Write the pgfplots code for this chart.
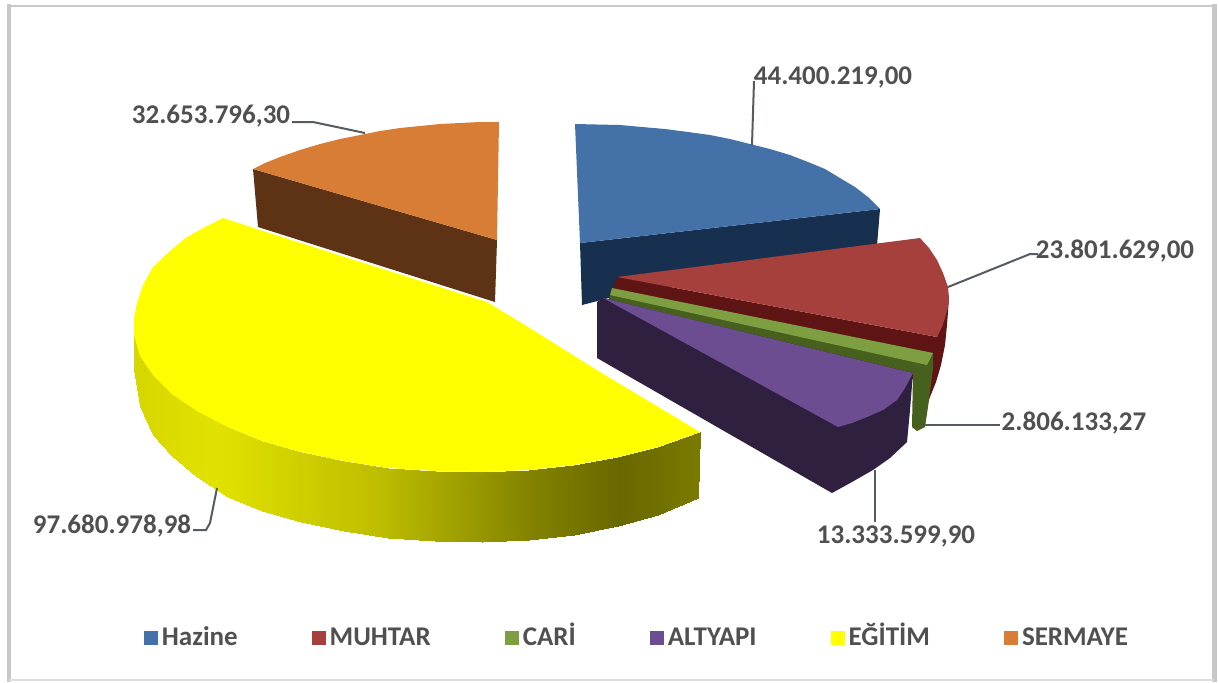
\documentclass[border=0pt]{standalone}
\usepackage{fontspec}
\setmainfont{Carlito}
\usepackage{pgfplots}
\pgfplotsset{compat=1.18}

\definecolor{txt}{HTML}{505050}
\definecolor{lead}{HTML}{555B60}
\definecolor{frame}{HTML}{C8C8C8}
\definecolor{blueT}{HTML}{4472A8}
\definecolor{blueS}{HTML}{17304F}
\definecolor{redT}{HTML}{A6403C}
\definecolor{redS}{HTML}{5F1513}
\definecolor{greenT}{HTML}{7E9E42}
\definecolor{greenS}{HTML}{47601E}
\definecolor{purpT}{HTML}{6D4D92}
\definecolor{purpS}{HTML}{2F2040}
\definecolor{orgT}{HTML}{D87D35}
\definecolor{orgS}{HTML}{5E3214}
\definecolor{yelT}{RGB}{255,255,0}

\begin{document}
\begin{tikzpicture}
\begin{axis}[
    scale only axis, width=609.5pt, height=341pt,
    xmin=0, xmax=1219, ymin=0, ymax=682, y dir=reverse,
    axis lines=none, clip=false,
    colormap={yside}{rgb255(0cm)=(214,214,0); rgb255(1cm)=(226,226,0); rgb255(3cm)=(190,190,0); rgb255(5cm)=(128,128,0); rgb255(6cm)=(104,104,0); rgb255(7cm)=(122,122,0)},
    legend columns=6,
    legend cell align=left,
    legend image code/.code={\fill[#1] (0pt,-3.5pt) rectangle (7pt,3.5pt);},
    legend style={at={(axis cs:638,638)}, anchor=center, draw=none, fill=none,
      font=\fontsize{13.5}{15}\selectfont\bfseries\color{txt},
      nodes={text height=10pt, text depth=2.5pt},
      /tikz/every even column/.append style={column sep=35pt}},
  ]
  % frame
  \addplot[draw=frame, line width=2pt, forget plot] coordinates {(9,4)(9,682)};
  \addplot[draw=frame, line width=2.5pt, forget plot] coordinates {(1214,4)(1214,682)};
  \addplot[draw=frame, line width=1pt, forget plot] coordinates {(9,6)(1214,6)};
  \addplot[draw=frame!60, line width=1pt, forget plot] coordinates {(9,680)(1214,680)};

  % Hazine
  \addplot[fill=blueS, draw=none, forget plot] coordinates {(580,243)(880,209)(875,270)(640,290)(582,305)};
  \addplot[fill=blueT, draw=none] coordinates {(575,124)(597,124.5)(620,125)(642,127)(665,129)(688,132)(710,135)(730,139)(750,144)(770,149)(790,155)(808,162)(825,169)(840,178)(855,187)(868,197)(880,209)(580,243)};
  \addlegendentry{Hazine}

  % MUHTAR
  \addplot[fill=redS, draw=none, forget plot] coordinates {(617,277)(937,337)(949,298)(947,325)(945,345)(941,365)(936,382)(928,402)(920,400)(915,380)(612,292)};
  \addplot[fill=redT, draw=none] coordinates {(617,277)(920,238)(929,248)(937,260)(943,273)(948,287)(949,298)(948,307)(945,318)(942,327)(937,337)};
  \addlegendentry{MUHTAR}

  % CARI
  \addplot[fill=greenS, draw=none, forget plot] coordinates {(612,292)(933,353)(933,368)(929,400)(925,427)(917,431)(912,427)(913,373)(608,300)};
  \addplot[fill=greenT, draw=none] coordinates {(612,288)(933,353)(927,365)(610,295)};
  \addlegendentry{CARİ}

  % ALTYAPI
  \addplot[fill=purpS, draw=none, forget plot] coordinates {(597,302)(603,298)(913,373)(910,410)(907,442)(890,458)(873,470)(852,482)(832,493)(597,358)};
  \addplot[fill=purpT, draw=none] coordinates {(603,298)(913,373)(905,388)(897,400)(883,410)(867,417)(852,423)(838,427)};
  \addlegendentry{ALTYAPI}

  % EGITIM side, shaded along x
  \addplot[surf, shader=interp, mesh/rows=2, point meta=x, forget plot] table {
x y
134 315
134 335
140 356
153 375
172 394
197 411
228 427
262 441
301 452
344 461
388 468
435 471
482 472
529 470
574 465
618 457
658 447
700 432
134 315
134 370
140 406
153 435
172 456
197 477
228 497
262 511
301 522
344 531
388 538
435 541
482 542
529 540
574 535
618 526
658 515
698 498
};
  \addplot[fill=yelT, draw=none] coordinates {(223,218)(205,227)(187,237)(170,251)(153,267)(143,285)(137,303)(134,318)(134,335)(140,356)(153,375)(172,394)(197,411)(228,427)(262,441)(301,452)(344,461)(388,468)(435,471)(482,472)(529,470)(574,465)(618,457)(658,447)(700,432)(600,372)(520,322)(487,302)(370,265)(260,230)};
  \addlegendentry{EĞİTİM}

  % SERMAYE
  \addplot[fill=orgS, draw=none, forget plot] coordinates {(253,169)(497,240)(495,302)(258,227)};
  \addplot[fill=orgT, draw=none] coordinates {(253,169)(265,163)(280,157)(300,150)(320,144)(340,139)(360,135)(380,131)(400,128)(420,126)(440,124)(460,123)(480,122)(499,122)(497,240)};
  \addlegendentry{SERMAYE}

  % leader lines
  \addplot[draw=lead, line width=1pt, forget plot] coordinates {(292,122)(313,122)(365,133)};
  \addplot[draw=lead, line width=1pt, forget plot] coordinates {(754,81)(752,145)};
  \addplot[draw=lead, line width=1pt, forget plot] coordinates {(948,287)(1030,254)(1038,254)};
  \addplot[draw=lead, line width=1pt, forget plot] coordinates {(925,425)(1000,425)};
  \addplot[draw=lead, line width=1pt, forget plot] coordinates {(875,470)(875,522)};
  \addplot[draw=lead, line width=1pt, forget plot] coordinates {(217,488)(210,523)(206,530)(193,530)};

  % value labels
  \tikzset{val/.style={text=txt, font=\fontsize{13.5}{15}\selectfont\bfseries, inner sep=0pt}}
  \node[val] at (axis cs:833,77) {44.400.219,00};
  \node[val] at (axis cs:1115,251) {23.801.629,00};
  \node[val] at (axis cs:1074,423) {2.806.133,27};
  \node[val] at (axis cs:896,536) {13.333.599,90};
  \node[val] at (axis cs:112,526) {97.680.978,98};
  \node[val] at (axis cs:211,116) {32.653.796,30};
\end{axis}
\pgfresetboundingbox
\path (0,0) rectangle (609.5pt,341pt);
\end{tikzpicture}
\end{document}
